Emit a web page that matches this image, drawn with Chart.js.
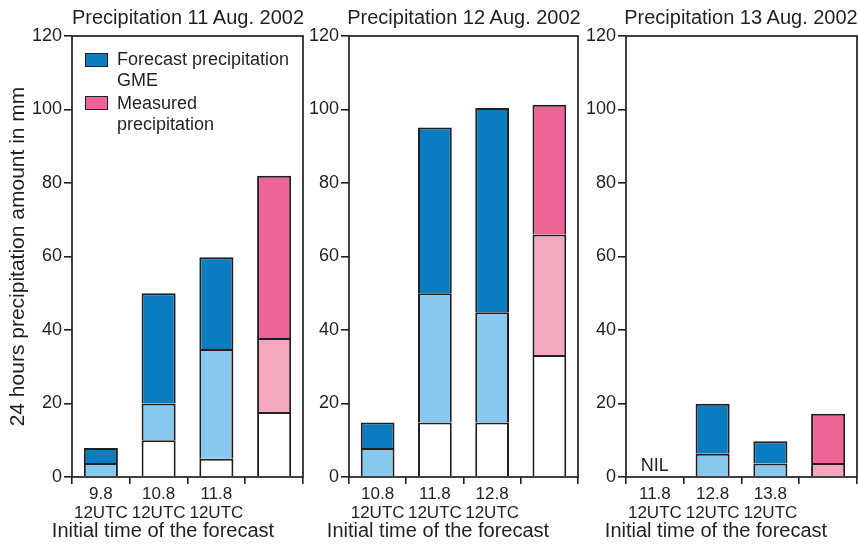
<!DOCTYPE html>
<html>
<head>
<meta charset="utf-8">
<script src="https://cdn.jsdelivr.net/npm/chart.js@4"></script>
<style>
  body { margin: 0; background: #fff; }
  #wrap { position: relative; width: 858px; height: 544px; overflow: hidden; font-family: 'Liberation Sans', Arial, sans-serif; color: #231f20; }
  canvas { position: absolute; top: 0; }
  .txt { position: absolute; text-align: center; white-space: nowrap; }
  .ptitle { font-size: 20px; line-height: 20px; top: 7px; width: 300px; }
  .xtitle { font-size: 20px; line-height: 20px; top: 520px; width: 300px; }
  .leg { position: absolute; left: 117px; font-size: 18px; line-height: 21px; }
  .legbox { position: absolute; left: 85px; width: 21px; height: 12px; border: 1.5px solid #231f20; }
</style>
</head>
<body>
<div id="wrap">
  <canvas id="c1" width="306" height="544" style="left:0px"></canvas>
  <canvas id="c2" width="275" height="544" style="left:306px"></canvas>
  <canvas id="c3" width="277" height="544" style="left:581px"></canvas>

  <div class="txt ptitle" style="left:38px">Precipitation 11 Aug. 2002</div>
  <div class="txt ptitle" style="left:314px">Precipitation 12 Aug. 2002</div>
  <div class="txt ptitle" style="left:591px">Precipitation 13 Aug. 2002</div>

  <div class="txt xtitle" style="left:13px">Initial time of the forecast</div>
  <div class="txt xtitle" style="left:288px">Initial time of the forecast</div>
  <div class="txt xtitle" style="left:566px">Initial time of the forecast</div>

  <div class="legbox" style="top:53px;background:#0a7cc0"></div>
  <div class="leg" style="top:49px">Forecast precipitation<br>GME</div>
  <div class="legbox" style="top:96px;background:#ee6499"></div>
  <div class="leg" style="top:93px">Measured<br>precipitation</div>
</div>

<script>
// tick labels (x) per panel
const labels1 = [['9.8', '12UTC'], ['10.8', '12UTC'], ['11.8', '12UTC'], ''];
const labels2 = [['10.8', '12UTC'], ['11.8', '12UTC'], ['12.8', '12UTC'], ''];
const labels3 = [['11.8', '12UTC'], ['12.8', '12UTC'], ['13.8', '12UTC'], ''];

// top level (mm) of each band: white base, light middle, dark top
const p1White = [0, 10, 5, 17.7];
const p1Light = [3.8, 20, 34.8, 37.8];
const p1Dark = [7.9, 50, 59.8, 82];

const p2White = [0, 14.8, 14.8, 33.2];
const p2Light = [7.9, 50, 44.8, 66];
const p2Dark = [14.8, 95.1, 100.4, 101.3];

const p3White = [0, 0, 0, 0];
const p3Light = [0, 6.3, 3.7, 3.8];
const p3Dark = [0, 19.9, 9.7, 17.2];
const p3Notes = ['NIL', '', '', ''];

// which bar is measured (pink) vs forecast (blue)
const measured = [false, false, false, true];
const yTicks = [0, 20, 40, 60, 80, 100, 120];

const INK = '#231f20';
const FONT = "'Liberation Sans', Arial, sans-serif";
const darkCol = measured.map(m => m ? '#ee6499' : '#0a7cc0');
const lightCol = measured.map(m => m ? '#f4a7bd' : '#88c9ef');

// turn levels into stacked segment heights
function seg(top, bottom) {
    return top.map((v, i) => {
        const d = v - (bottom ? bottom[i] : 0);
        return d > 0 ? d : null;
    });
}

// draw the frame round the plot, plus any note text
const framePlugin = {
    id: 'frame',
    afterDatasetsDraw(chart, args, opts) {
        const a = chart.chartArea;
        const ctx = chart.ctx;
        ctx.save();
        ctx.strokeStyle = INK;
        ctx.lineWidth = 1.7;
        ctx.strokeRect(a.left, a.top, a.right - a.left, a.bottom - a.top);
        if (opts.notes) {
            ctx.fillStyle = INK;
            ctx.font = '18px ' + FONT;
            ctx.textAlign = 'center';
            ctx.textBaseline = 'alphabetic';
            opts.notes.forEach((n, i) => {
                if (!n) return;
                const x = chart.scales.x.getPixelForValue(i);
                const y = chart.scales.y.getPixelForValue(0) - 6;
                ctx.fillText(n, x, y);
            });
        }
        ctx.restore();
    }
};

function makePanel(id, labels, white, light, dark, yWidth, rightPad, showTitle, notes) {
    const ctx = document.getElementById(id).getContext('2d');
    return new Chart(ctx, {
        type: 'bar',
        data: {
            labels: labels,
            datasets: [
                { data: seg(white), backgroundColor: '#ffffff' },
                { data: seg(light, white), backgroundColor: lightCol },
                { data: seg(dark, light), backgroundColor: darkCol }
            ]
        },
        options: {
            responsive: false,
            animation: false,
            devicePixelRatio: 1,
            layout: { padding: { left: 0, right: rightPad, top: 36, bottom: 0 } },
            datasets: {
                bar: {
                    borderColor: INK,
                    borderWidth: 2,
                    categoryPercentage: 1,
                    barPercentage: 0.59
                }
            },
            plugins: {
                legend: { display: false },
                tooltip: { enabled: false },
                frame: { notes: notes }
            },
            scales: {
                x: {
                    stacked: true,
                    afterFit(scale) { scale.height = 67; },
                    grid: {
                        offset: true,
                        drawOnChartArea: false,
                        drawTicks: true,
                        tickLength: 7,
                        lineWidth: 1.6,
                        color: c => c.index >= labels.length ? 'rgba(0,0,0,0)' : INK
                    },
                    border: { display: false },
                    ticks: {
                        color: INK,
                        padding: 1,
                        maxRotation: 0,
                        font: { family: FONT, size: 17, lineHeight: 1.1 }
                    }
                },
                y: {
                    stacked: true,
                    min: 0,
                    max: 120,
                    afterFit(scale) { scale.width = yWidth; },
                    afterBuildTicks(scale) { scale.ticks = yTicks.map(v => ({ value: v })); },
                    grid: {
                        drawOnChartArea: false,
                        drawTicks: true,
                        tickLength: 8,
                        lineWidth: 1.6,
                        color: INK
                    },
                    border: { display: false },
                    ticks: {
                        color: INK,
                        padding: 2,
                        font: { family: FONT, size: 18 }
                    },
                    title: {
                        display: showTitle,
                        text: '24 hours precipitation amount in mm',
                        color: INK,
                        padding: { top: 6, bottom: 0 },
                        font: { family: FONT, size: 21 }
                    }
                }
            }
        },
        plugins: [framePlugin]
    });
}

makePanel('c1', labels1, p1White, p1Light, p1Dark, 72, 3, true, null);
makePanel('c2', labels2, p2White, p2Light, p2Dark, 43, 3, false, null);
makePanel('c3', labels3, p3White, p3Light, p3Dark, 45, 1, false, p3Notes);
</script>
</body>
</html>
